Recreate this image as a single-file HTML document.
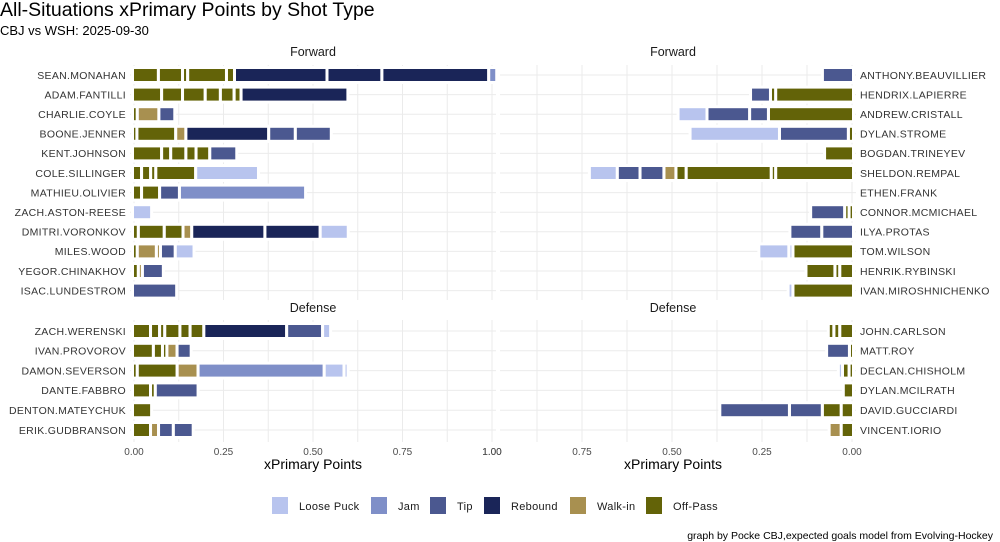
<!DOCTYPE html>
<html><head><meta charset="utf-8"><style>
body{margin:0;background:#fff;}
svg{display:block;font-family:"Liberation Sans",sans-serif;}
</style></head><body>
<svg id="c" width="1000" height="542" xmlns="http://www.w3.org/2000/svg">
<text x="0" y="16" font-size="19.5" fill="#000">All-Situations xPrimary Points by Shot Type</text>
<text x="0" y="35" font-size="13" fill="#000">CBJ vs WSH: 2025-09-30</text>
<g id="grid"></g><g id="bars"></g><g id="labels"></g>
<text x="313" y="469" font-size="14" text-anchor="middle" fill="#000">xPrimary Points</text>
<text x="673" y="469" font-size="14" text-anchor="middle" fill="#000">xPrimary Points</text>
<g id="legend"></g>
<text x="993" y="539" font-size="10.5" text-anchor="end" fill="#000">graph by Pocke CBJ,expected goals model from Evolving-Hockey</text>
</svg>
<script>
const types=["Loose Puck","Jam","Tip","Rebound","Walk-in","Off-Pass"];
const colors={"Loose Puck":"#b8c4ee","Jam":"#7f8fc8","Tip":"#4b5890","Rebound":"#1a2558","Walk-in":"#a89050","Off-Pass":"#636308"};
const xTicks=[0,0.25,0.5,0.75,1.0];
const xTickLabels=["0.00","0.25","0.50","0.75","1.00"];
const cbjForwards=["SEAN.MONAHAN","ADAM.FANTILLI","CHARLIE.COYLE","BOONE.JENNER","KENT.JOHNSON","COLE.SILLINGER","MATHIEU.OLIVIER","ZACH.ASTON-REESE","DMITRI.VORONKOV","MILES.WOOD","YEGOR.CHINAKHOV","ISAC.LUNDESTROM"];
const cbjForwardShots=[
[["Off-Pass",.064],["Off-Pass",.059],["Off-Pass",.006],["Off-Pass",.1],["Off-Pass",.014],["Rebound",.25],["Rebound",.145],["Rebound",.29],["Jam",.014]],
[["Off-Pass",.073],["Off-Pass",.05],["Off-Pass",.055],["Off-Pass",.034],["Off-Pass",.03],["Off-Pass",.011],["Rebound",.29]],
[["Off-Pass",.005],["Walk-in",.052],["Tip",.036]],
[["Off-Pass",.004],["Off-Pass",.1],["Walk-in",.02],["Rebound",.223],["Tip",.066],["Tip",.092]],
[["Off-Pass",.073],["Off-Pass",.017],["Off-Pass",.034],["Off-Pass",.02],["Off-Pass",.03],["Tip",.067]],
[["Off-Pass",.017],["Off-Pass",.017],["Off-Pass",.006],["Off-Pass",.103],["Loose Puck",.167]],
[["Off-Pass",.017],["Off-Pass",.042],["Tip",.047],["Jam",.344]],
[["Loose Puck",.045]],
[["Off-Pass",.008],["Off-Pass",.064],["Off-Pass",.044],["Walk-in",.016],["Rebound",.196],["Rebound",.146],["Loose Puck",.07]],
[["Off-Pass",.005],["Walk-in",.045],["Walk-in",.003],["Tip",.033],["Loose Puck",.044]],
[["Off-Pass",.008],["Walk-in",.003],["Tip",.05]],
[["Tip",.115]]];
const cbjDefense=["ZACH.WERENSKI","IVAN.PROVOROV","DAMON.SEVERSON","DANTE.FABBRO","DENTON.MATEYCHUK","ERIK.GUDBRANSON"];
const cbjDefenseShots=[
[["Off-Pass",.042],["Off-Pass",.017],["Off-Pass",.006],["Off-Pass",.034],["Off-Pass",.02],["Off-Pass",.03],["Rebound",.223],["Tip",.092],["Loose Puck",.014]],
[["Off-Pass",.05],["Off-Pass",.017],["Off-Pass",.004],["Walk-in",.02],["Tip",.031]],
[["Off-Pass",.005],["Off-Pass",.103],["Walk-in",.05],["Jam",.344],["Loose Puck",.047],["Loose Puck",.003]],
[["Off-Pass",.042],["Off-Pass",.005],["Tip",.111]],
[["Off-Pass",.045]],
[["Off-Pass",.042],["Walk-in",.014],["Tip",.033],["Tip",.047]]];
const wshForwards=["ANTHONY.BEAUVILLIER","HENDRIX.LAPIERRE","ANDREW.CRISTALL","DYLAN.STROME","BOGDAN.TRINEYEV","SHELDON.REMPAL","ETHEN.FRANK","CONNOR.MCMICHAEL","ILYA.PROTAS","TOM.WILSON","HENRIK.RYBINSKI","IVAN.MIROSHNICHENKO"];
const wshForwardShots=[
[["Tip",.078]],
[["Off-Pass",.208],["Off-Pass",.006],["Tip",.047]],
[["Off-Pass",.228],["Tip",.044],["Tip",.11],["Loose Puck",.072]],
[["Off-Pass",.006],["Tip",.183],["Loose Puck",.24]],
[["Off-Pass",.072]],
[["Off-Pass",.208],["Off-Pass",.004],["Off-Pass",.228],["Off-Pass",.02],["Walk-in",.025],["Tip",.058],["Tip",.055],["Loose Puck",.069]],
[],
[["Off-Pass",.004],["Off-Pass",.004],["Tip",.086]],
[["Tip",.08],["Tip",.08]],
[["Off-Pass",.16],["Loose Puck",.003],["Loose Puck",.075]],
[["Off-Pass",.03],["Off-Pass",.005],["Off-Pass",.072]],
[["Off-Pass",.16],["Loose Puck",.005]]];
const wshDefense=["JOHN.CARLSON","MATT.ROY","DECLAN.CHISHOLM","DYLAN.MCILRATH","DAVID.GUCCIARDI","VINCENT.IORIO"];
const wshDefenseShots=[
[["Off-Pass",.03],["Off-Pass",.008],["Off-Pass",.007]],
[["Off-Pass",.003],["Tip",.055]],
[["Off-Pass",.004],["Off-Pass",.01],["Loose Puck",.003]],
[["Off-Pass",.02]],
[["Off-Pass",.026],["Off-Pass",.044],["Tip",.083],["Tip",.185]],
[["Off-Pass",.026],["Walk-in",.025]]];

const NS="http://www.w3.org/2000/svg";
const GAP=3;
function mk(tag,attrs,parent,txt){const e=document.createElementNS(NS,tag);for(const k in attrs)e.setAttribute(k,attrs[k]);if(txt!==undefined)e.textContent=txt;parent.appendChild(e);return e;}
const G=document.getElementById('grid'),B=document.getElementById('bars'),L=document.getElementById('labels');
const xL=v=>134+v*358, xR=v=>852-v*360;
const panels=[
 {names:cbjForwards,shots:cbjForwardShots,x:xL,dir:1,side:'left',y0:75,step:19.6,top:65,bot:300,x0:130,x1:496,title:"Forward",tx:313,ty:56},
 {names:cbjDefense,shots:cbjDefenseShots,x:xL,dir:1,side:'left',y0:331,step:19.8,top:320,bot:442,x0:130,x1:496,title:"Defense",tx:313,ty:312},
 {names:wshForwards,shots:wshForwardShots,x:xR,dir:-1,side:'right',y0:75,step:19.6,top:65,bot:300,x0:500,x1:856,title:"Forward",tx:673,ty:56},
 {names:wshDefense,shots:wshDefenseShots,x:xR,dir:-1,side:'right',y0:331,step:19.8,top:320,bot:442,x0:500,x1:856,title:"Defense",tx:673,ty:312}];
panels.forEach((p,pi)=>{
  let t=mk('text',{x:p.tx,y:p.ty,'font-size':12.5,'text-anchor':'middle',fill:'#1a1a1a'},L,p.title);
  
  
  for(let v=0;v<=1.0001;v+=0.125){const gx=p.x(v);if(gx<p.x0-1||gx>p.x1+1)continue;
    let l=mk('line',{x1:gx,x2:gx,y1:p.top,y2:p.bot,stroke:'#ebebeb','stroke-width':1},G);
    
    }
  p.names.forEach((n,i)=>{const y=p.y0+i*p.step;
    let l=mk('line',{x1:p.x0,x2:p.x1,y1:y,y2:y,stroke:'#ebebeb','stroke-width':1},G);
    
    
    let lb=mk('text',{x:p.side==='left'?126:860,y:y+3.8,'font-size':10.5,'letter-spacing':'0.3','text-anchor':p.side==='left'?'end':'start',fill:'#333'},L,n);
    
    
    let px=p.x(0)-p.dir*GAP/2;
    (p.shots[i]||[]).forEach(s=>{
      const w=Math.abs(p.x(s[1])-p.x(0))+GAP;
      const a=px, b=px+p.dir*w; px=b;
      let r=mk('rect',{x:Math.min(a,b),y:y-7.5,width:w,height:15,fill:colors[s[0]],stroke:'#fff','stroke-width':GAP},B);
      
      });
  });
  if(pi===1||pi===3){xTicks.forEach((v,k)=>{const gx=p.x(v);
    let tl=mk('text',{x:gx,y:455,'font-size':10,'text-anchor':'middle',fill:'#4d4d4d'},L,xTickLabels[k]);
    
    });}
});
const LG=document.getElementById('legend');
const legX=[272,371,430,484,570,646];
types.forEach((ty,i)=>{
  let r=mk('rect',{x:legX[i],y:497,width:16,height:17,fill:colors[ty]},LG);
  
  
  let t=mk('text',{x:legX[i]+27,y:510,'font-size':11,'letter-spacing':'0.3',fill:'#1a1a1a'},LG,ty);
  
  
});
</script>
</body></html>
